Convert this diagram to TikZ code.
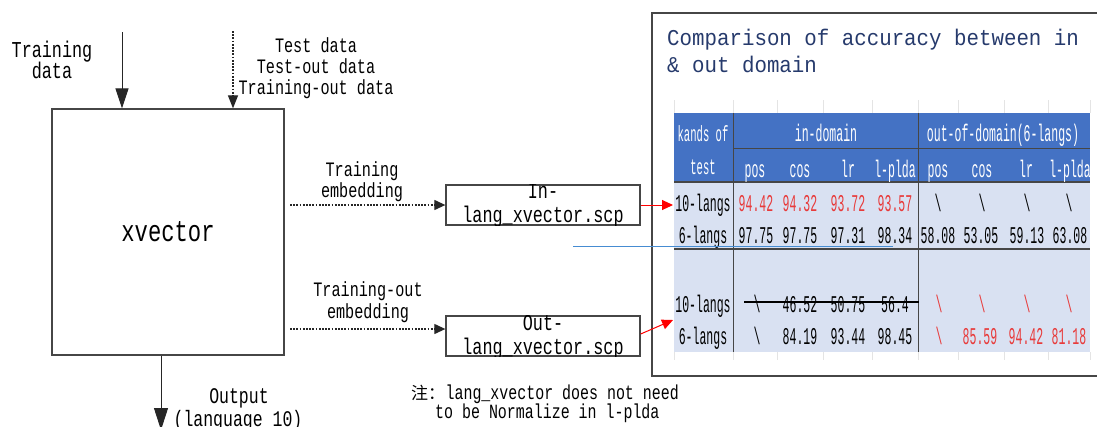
\documentclass[tikz,border=0pt]{standalone}
\usepackage{fontspec}
\usetikzlibrary{arrows.meta}
% narrow monospaced serif faces
\newfontfamily\dmono[FakeStretch=0.74]{Liberation Mono}
\newfontfamily\ttlfont[FakeStretch=0.92]{Liberation Mono}
\newfontfamily\tblfont[FakeStretch=0.48]{Liberation Mono}
\newfontfamily\cjk{Noto Sans CJK SC}

\definecolor{hdrblue}{RGB}{68,114,196}
\definecolor{bodyblue}{RGB}{217,225,242}
\definecolor{numred}{RGB}{232,58,58}
\definecolor{titleblue}{RGB}{38,58,108}
\definecolor{rulegray}{RGB}{70,70,70}
\definecolor{guide}{RGB}{70,140,210}
\definecolor{faint}{RGB}{228,228,228}

\tikzset{
  lbl/.style={inner sep=0pt, anchor=base, font=\dmono\fontsize{#1}{#1}\selectfont},
  lbl/.default=20.5,
  cell/.style={inner sep=0pt, anchor=base, font=\tblfont\fontsize{24}{24}\selectfont},
  hcell/.style={cell, text=white},
  boxed/.style={draw=rulegray, line width=1.3pt, inner sep=0pt},
  flow/.style={line width=1pt, draw=black!85},
  dots/.style={line width=1.2pt, draw=black!85, dash pattern=on 1.8pt off 1.4pt},
  redarrow/.style={line width=1pt, draw=red!90!black, -{Triangle[length=11pt,width=10pt]}, red},
  rule/.style={draw=rulegray, line width=1.3pt},
}

\begin{document}
\begin{tikzpicture}[x=1pt,y=-1pt]
\useasboundingbox (0,0) rectangle (1097,426);

% ---------- left: x-vector extractor ----------
\node[boxed, minimum width=232pt, minimum height=246pt,
      font=\dmono\fontsize{30}{30}\selectfont] (xv) at (168,232) {xvector};

\coordinate (trainsrc) at (122,32);
\coordinate (testsrc) at (233,31);
\coordinate (outdst) at (161,430);
\draw[flow, -{Triangle[length=20pt,width=13pt]}] (trainsrc) -- (trainsrc |- xv.north);
\draw[dots, -{Triangle[length=13pt,width=10pt]}] (testsrc) -- (testsrc |- xv.north);
\draw[flow, -{Triangle[length=22pt,width=14pt]}] (outdst |- xv.south) -- (outdst);

\node[lbl=22.7] (trn1) at (52,57) {Training};
\node[lbl=22.7] (trn2) at (52,78) {data};

\node[lbl] (tst1) at (316,52) {Test data};
\node[lbl] (tst2) at (316,73) {Test-out data};
\node[lbl] (tst3) at (316,94) {Training-out data};

\node[lbl=22.3] (out1) at (239,403) {Output};
\node[lbl=22.3] (out2) at (238,426) {(language 10)};

% ---------- embedding lists ----------
\node[boxed, minimum width=194pt, minimum height=40pt] (inl) at (543,205) {};
\node[boxed, minimum width=194pt, minimum height=40pt] (outl) at (543,336) {};
\begin{scope}
  \clip (inl.north west) rectangle (inl.south east);
  \node[lbl=22.7] (inl1) at (543,198) {In-};
  \node[lbl=22.7] (inl2) at (543,222) {lang\_xvector.scp};
\end{scope}
\begin{scope}
  \clip (outl.north west) rectangle (outl.south east);
  \node[lbl=22.7] (outl1) at (543,330) {Out-};
  \node[lbl=22.7] (outl2) at (543,354) {lang\_xvector.scp};
\end{scope}

\coordinate (embin) at (290,205);
\coordinate (embout) at (290,329);
\draw[dots, -{Triangle[length=11pt,width=10pt]}] (embin) -- (embin -| inl.west);
\draw[dots, -{Triangle[length=11pt,width=10pt]}] (embout) -- (embout -| outl.west);

\node[lbl] (te1) at (362,176) {Training};
\node[lbl] (te2) at (362,197) {embedding};
\node[lbl] (toe1) at (368,296) {Training-out};
\node[lbl] (toe2) at (368,318) {embedding};

\node[inner sep=0pt, anchor=base west, font=\cjk\fontsize{17}{17}\selectfont] (nt0) at (411,399) {注：};
\node[lbl=20.2, anchor=base west] (nt1) at (nt0.base east) {lang\_xvector does not need};
\node[lbl=20.2, anchor=base west] (nt2) at (435,418) {to be Normalize in l-plda};

% ---------- result panel ----------
\coordinate (fr1) at (1100,13);
\coordinate (fr2) at (652,13);
\coordinate (fr3) at (652,376);
\coordinate (fr4) at (1100,376);
\draw[draw=rulegray, line width=1.5pt] (fr1) -- (fr2) -- (fr3) -- (fr4);

\node[inner sep=0pt, anchor=base west, text=titleblue,
      font=\ttlfont\fontsize{22.6}{22.6}\selectfont] (ttl1) at (667,45) {Comparison of accuracy between in};
\node[inner sep=0pt, anchor=base west, text=titleblue,
      font=\ttlfont\fontsize{22.6}{22.6}\selectfont] (ttl2) at (667,72) {\& out domain};

% table background
\fill[hdrblue] (674,113) rectangle (1090,182);
\fill[bodyblue] (674,182) rectangle (1090,352);
% light sheet grid peeking outside the table
\foreach \gx in {674,733,777,823,872,918,958,1004,1048,1090}{
  \draw[faint, line width=0.8pt] (\gx,100) -- (\gx,113);
  \draw[faint, line width=0.8pt] (\gx,352) -- (\gx,360);
}
% table rules
\draw[rule] (674,182) -- (1090,182);
\draw[rule, line width=1pt] (733,148) -- (1090,148);
\draw[rule] (674,249) -- (1090,249);
\draw[rule, line width=1pt] (733,113) -- (733,352);
\draw[rule, line width=1pt] (918,113) -- (918,352);

% header
\node[hcell, font=\tblfont\fontsize{22}{22}\selectfont] (hk1) at (703,141) {kands of};
\node[hcell, font=\tblfont\fontsize{22}{22}\selectfont] (hk2) at (703,174) {test};
\node[hcell] (hin) at (826,141) {in-domain};
\node[hcell] (hout) at (1003,141) {out-of-domain(6-langs)};
\foreach \x/\t [count=\k] in {755/pos,800/cos,848/lr,895/l-plda,938/pos,982/cos,1026/lr,1070/l-plda}
  \node[hcell] (hc\k) at (\x,177) {\t};

% body
\node[cell] (lab1) at (703,211) {10-langs};
\node[cell] (lab2) at (703,243) {6-langs};
\node[cell] (lab3) at (703,312) {10-langs};
\node[cell] (lab4) at (703,344) {6-langs};

\foreach \x/\v [count=\k] in {756/94.42,800/94.32,848/93.72,895/93.57}
  \node[cell, text=numred] (ra\k) at (\x,211) {\v};
\foreach \x [count=\k] in {938,982,1027,1069}
  \node[cell] (rb\k) at (\x,211) {\textbackslash};

\foreach \x/\v [count=\k] in {756/97.75,800/97.75,848/97.31,895/98.34,938/58.08,981/53.05,1027/59.13,1070/63.08}
  \node[cell] (rc\k) at (\x,243) {\v};

\node[cell] (rd1) at (757,312) {\textbackslash};
\foreach \x/\v [count=\k] in {800/46.52,848/50.75,895/56.4}
  \node[cell] (rd\the\numexpr\k+1\relax) at (\x,312) {\v};
\foreach \x [count=\k] in {939,982,1027,1069}
  \node[cell, text=numred] (re\k) at (\x,312) {\textbackslash};

\node[cell] (rf1) at (757,344) {\textbackslash};
\foreach \x/\v [count=\k] in {800/84.19,848/93.44,895/98.45}
  \node[cell] (rf\the\numexpr\k+1\relax) at (\x,344) {\v};
\node[cell, text=numred] (rg1) at (939,344) {\textbackslash};
\foreach \x/\v [count=\k] in {980/85.59,1026/94.42,1069/81.18}
  \node[cell, text=numred] (rg\the\numexpr\k+1\relax) at (\x,344) {\v};

% struck-out row
\coordinate (st1) at (744,302);
\coordinate (st2) at (919,302);
\draw[black, line width=1.2pt] (st1) -- (st2);

% guide line
\coordinate (gd1) at (573,246);
\coordinate (gd2) at (893,246);
\draw[guide, line width=1pt] (gd1) -- (gd2);

% links from the lists to the table rows
\coordinate (tin) at (673,205);
\coordinate (tout) at (673,320);
\draw[redarrow] (inl.east |- tin) -- (tin);
\draw[redarrow] (outl.east |- 0,334) -- (tout);
\end{tikzpicture}
\end{document}
